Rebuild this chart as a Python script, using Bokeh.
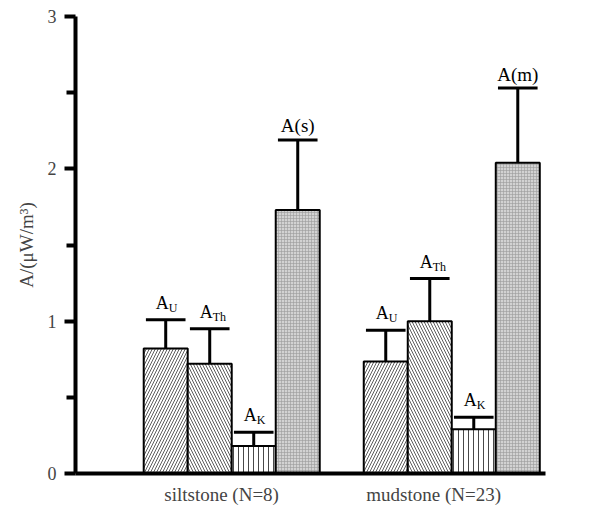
from bokeh.plotting import figure
from bokeh.models import Range1d, FixedTicker
from bokeh.core.properties import value
from bokeh.embed import file_html
from bokeh.resources import INLINE

# ---- data ----
groups = ["siltstone (N=8)", "mudstone (N=23)"]
A_U = [0.82, 0.735]
A_U_sd = [0.19, 0.205]
A_Th = [0.72, 1.00]
A_Th_sd = [0.23, 0.28]
A_K = [0.18, 0.29]
A_K_sd = [0.09, 0.08]
A_tot = [1.73, 2.04]
A_tot_sd = [0.46, 0.49]
sub_names = ["U", "Th", "K"]
total_names = ["A(s)", "A(m)"]
y_ticks = [0, 1, 2, 3]

FONT = value("Liberation Serif")

p = figure(width=603, height=514, x_range=Range1d(0, 10.68), y_range=Range1d(0, 3),
           output_backend="svg", toolbar_location=None,
           min_border_left=75, min_border_right=58, min_border_top=16, min_border_bottom=41)
p.outline_line_color = None
p.xgrid.visible = False
p.ygrid.visible = False
p.background_fill_color = "white"
p.border_fill_color = "white"

# layout positions
group_start = [2.05, 7.05]   # centre of first bar in each group
bar_w = 1.0
cap_half = 0.45

series = [
    (A_U, A_U_sd, dict(fill_color="white", hatch_pattern="/", hatch_scale=6, hatch_weight=0.8, hatch_color="#333333")),
    (A_Th, A_Th_sd, dict(fill_color="white", hatch_pattern="\\", hatch_scale=6, hatch_weight=0.8, hatch_color="#333333")),
    (A_K, A_K_sd, dict(fill_color="white", hatch_pattern="|", hatch_scale=5, hatch_weight=0.9, hatch_color="#333333")),
    (A_tot, A_tot_sd, dict(fill_color="#d2d2d2", hatch_pattern="+", hatch_scale=3, hatch_weight=0.6, hatch_color="#9a9a9a")),
]

for si, (vals, sds, style) in enumerate(series):
    xs = [g + si for g in group_start]
    tops = [v + s for v, s in zip(vals, sds)]
    p.vbar(x=xs, top=vals, bottom=0, width=bar_w, line_color="black", line_width=2, **style)
    p.segment(x0=xs, y0=vals, x1=xs, y1=tops, line_color="black", line_width=3)
    p.segment(x0=[x - cap_half for x in xs], y0=tops, x1=[x + cap_half for x in xs], y1=tops,
              line_color="black", line_width=3)
    if si < 3:
        p.text(x=xs, y=tops, text=["A"] * len(xs), text_font=FONT, text_font_size="18px",
               text_align="right", text_baseline="alphabetic", x_offset=3, y_offset=-17, text_color="black")
        p.text(x=xs, y=tops, text=[sub_names[si]] * len(xs), text_font=FONT, text_font_size="12px",
               text_align="left", text_baseline="alphabetic", x_offset=3, y_offset=-12, text_color="black")
    else:
        p.text(x=xs, y=tops, text=total_names, text_font=FONT, text_font_size="19px",
               text_align="center", text_baseline="alphabetic", y_offset=-14, text_color="black")

# y axis
ya = p.yaxis[0]
ya.ticker = FixedTicker(ticks=y_ticks, minor_ticks=[0.5, 1.5, 2.5])
ya.axis_line_width = 4
ya.major_tick_line_width = 4
ya.minor_tick_line_width = 4
ya.major_tick_in = 0
ya.major_tick_out = 11
ya.minor_tick_in = 0
ya.minor_tick_out = 9
ya.major_label_text_font = "Liberation Serif"
ya.major_label_text_font_size = "18px"
ya.major_label_standoff = 8
ya.axis_label = "A/(μW/m³)"
ya.axis_label_text_font = "Liberation Serif"
ya.axis_label_text_font_style = "normal"
ya.axis_label_text_font_size = "19px"
ya.axis_label_standoff = 8

# x axis
label_x = [3.32, 8.14]
xa = p.xaxis[0]
xa.ticker = FixedTicker(ticks=label_x, minor_ticks=[])
xa.major_label_overrides = {label_x[i]: groups[i] for i in range(len(groups))}
xa.axis_line_width = 4
xa.major_tick_in = 0
xa.major_tick_out = 0
xa.minor_tick_in = 0
xa.minor_tick_out = 0
xa.major_label_text_font = "Liberation Serif"
xa.major_label_text_font_size = "19px"
xa.major_label_standoff = 10

open("out.html", "w").write(file_html(p, INLINE))
